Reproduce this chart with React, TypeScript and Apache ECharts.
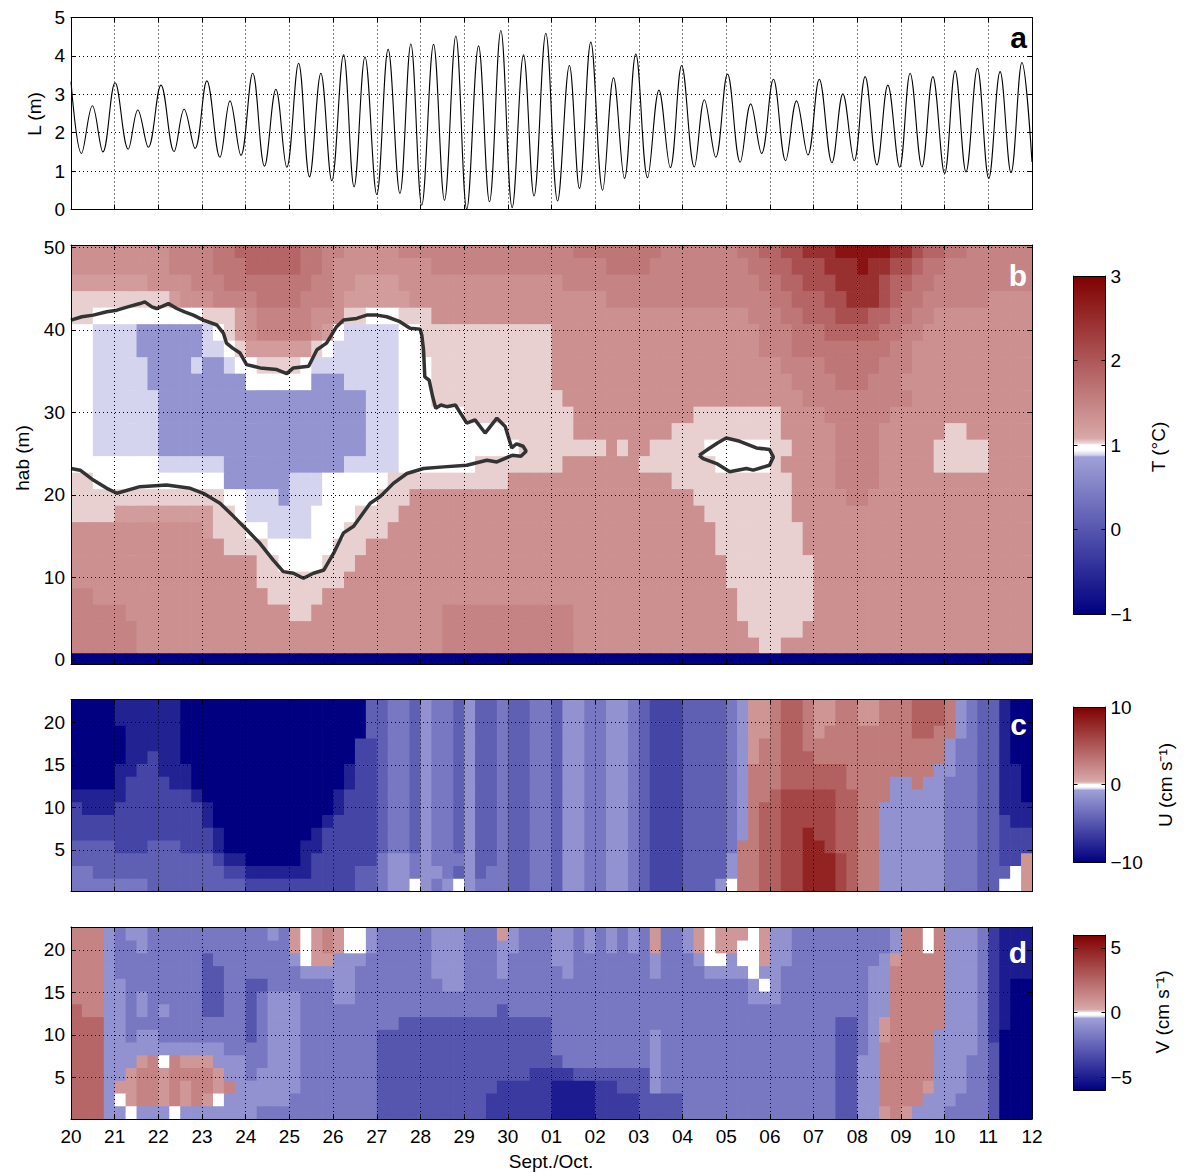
import React, { useEffect, useRef } from 'react';
import * as echarts from 'echarts';

// ---------------- data ----------------
const DAY_MIN = 20;
const DAY_MAX = 42;
const CELL_DAYS = 0.25;

// panel a: tidal level extremes [day, L (m)]
const TIDE_EXTREMA: [number, number][] = [
  [20.0, 3.33], [20.24, 1.46], [20.49, 2.70], [20.73, 1.50], [21.01, 3.30], [21.31, 1.57], [21.53, 2.59], [21.77, 1.62],
  [22.06, 3.24], [22.36, 1.51], [22.59, 2.61], [22.84, 1.59], [23.11, 3.35], [23.41, 1.36], [23.64, 2.83], [23.89, 1.41],
  [24.16, 3.55], [24.43, 1.13], [24.69, 3.13], [24.94, 1.10], [25.21, 3.81], [25.46, 0.85], [25.72, 3.55], [25.97, 0.75],
  [26.24, 4.03], [26.48, 0.59], [26.73, 3.97], [27.0, 0.39], [27.26, 4.17], [27.53, 0.42], [27.78, 4.31], [28.03, 0.11],
  [28.3, 4.30], [28.55, 0.24], [28.81, 4.52], [29.06, 0.01], [29.33, 4.26], [29.58, 0.20], [29.84, 4.66], [30.1, 0.05],
  [30.36, 4.03], [30.6, 0.35], [30.87, 4.59], [31.14, 0.22], [31.41, 3.75], [31.64, 0.55], [31.9, 4.36], [32.17, 0.50],
  [32.42, 3.43], [32.67, 0.81], [32.93, 4.05], [33.2, 0.83], [33.46, 3.11], [33.72, 1.09], [33.98, 3.75], [34.27, 1.11],
  [34.5, 2.86], [34.76, 1.36], [35.03, 3.53], [35.32, 1.23], [35.56, 2.75], [35.81, 1.46], [36.08, 3.39], [36.36, 1.27],
  [36.61, 2.83], [36.87, 1.42], [37.13, 3.39], [37.42, 1.22], [37.67, 3.01], [37.93, 1.27], [38.18, 3.46], [38.45, 1.16],
  [38.7, 3.24], [38.97, 1.10], [39.21, 3.55], [39.48, 1.11], [39.73, 3.46], [40.0, 0.94], [40.24, 3.61], [40.49, 0.98],
  [40.75, 3.68], [41.01, 0.81], [41.27, 3.59], [41.52, 0.96], [41.77, 3.83], [42.0, 1.24],
];

// panel b: temperature, one character per quarter day (groups = days 20..41)
const T_LEVELS: Record<string, number> = {
  N: -1, B: 0.72, L: 0.885, W: 0.97, P: 1.03,
  '1': 1.22, '2': 1.35, '3': 1.5, '4': 1.65, '5': 1.85, '6': 2.1, '7': 2.45, '8': 2.8,
};
const T_HAB = [49.7, 47.7, 45.7, 43.7, 41.7, 39.7, 37.7, 35.7, 33.7, 31.7, 29.7, 27.7, 25.7, 23.7, 21.7, 19.7, 17.7, 15.7, 13.7, 11.7, 9.7, 7.7, 5.7, 3.7, 1.7, -0.1];
const T_ROWS = [
  '2222 2222 2333 3445 5555 5443 3222 2233 3333 3333 3333 3344 4444 4433 3333 3445 5667 7788 8887 7655 4433 3333',
  '2222 2222 2333 3444 5555 5443 2222 2222 2333 3333 3333 3333 3444 4333 3333 3344 5566 6777 8776 6544 3333 3333',
  '1111 1112 2223 3344 4444 4433 2211 1122 2222 2222 2222 2333 3333 3333 3333 3334 4556 6677 7765 5443 3333 3333',
  'PPPP PPPP P122 2333 3444 4333 2111 1112 2222 2222 2222 2222 2333 3333 3333 3333 4455 5667 7765 4433 3333 2222',
  'PPWW WWWW WWWW PPP1 2333 3322 2PPW WWPP P222 2222 2222 2222 2222 2222 2222 2233 3445 5566 6554 4332 2222 2222',
  'WWLL LLBB BBBB LWP1 2333 3321 WLLL LLWW PPPP PPPP PPPP 2222 2222 2222 2222 2223 3344 4555 5544 3322 2222 2222',
  'WWLL LLBB BBBB LLWP 1111 11PW LLLL LLWW PPPP PPPP PPPP 2222 2222 2222 2222 2223 3344 4444 4443 3222 2222 2222',
  'WWLL LLLB BBBL BBLW WPPP PWLL LLLL LLWW WPPP PPPP PPPP 2222 2222 2222 2222 2222 2333 3444 4433 3222 2222 2222',
  'WWLL LLLB BBBB BBBB WWWW WWBB BLLL LLWW WPPP PPPP PPPP 2222 2222 2222 2222 2222 2233 3344 4333 2222 2222 2222',
  'WWLL LLLL BBBB BBBB BBBB BBBB BBBL LLWW WPPP PPPP PPPP P222 2222 2222 2222 2222 2223 3333 3333 3222 2222 2222',
  'WWLL LLLL BBBB BBBB BBBB BBBB BBBL LLWW WWWW PPPP PPPP PP22 2222 2222 2PPP PPPP P222 2333 3332 2222 2222 2222',
  'WWLL LLLL BBBB BBBB BBBB BBBB BBBL LLWW WWWW WWWW PPPP PP22 2222 222P PPPP PPPP P222 2233 3322 2222 PP22 2222',
  'WWLL LLLL BBBB BBBB BBBB BBBB BBBL LLWW WWWW WWWW WPPP PPPP P2P2 2PPP PPWW WWWW PP22 2233 3322 222P PPPP 2222',
  'WWWW WWWW LLLL LLBB BBBB BBBB BLLL LLWW WWWW WPPP PPPP P222 2222 PPPP PPPW WWWW P222 2233 3322 222P PPPP 2222',
  'PPWW WWWW WWWW WWBB BBBB LLLW WWWW WPPP PPPP PPPP 2222 2222 2222 222P PPPP PPPP PP22 2233 3322 2222 2222 2222',
  'PPPP PPPP PPPP PPWW LLLB LLLW WWWW PPP2 2222 2222 2222 2222 2222 2222 2PPP PPPP PP22 2223 3222 2222 2222 2222',
  'PPPP 1111 1111 1PPW LLLL LLWW WWPP PP22 2222 2222 2222 2222 2222 2222 22PP PPPP PP22 2222 2222 2222 2222 2222',
  '2222 2222 2222 1PPP WWLL LLWW WPPP P222 2222 2222 2222 2222 2222 2222 222P PPPP PPP2 2222 2222 2222 2222 2222',
  '2222 2222 2222 22PP PPWW WWWW PPP2 2222 2222 2222 2222 2222 2222 2222 222P PPPP PPP2 2222 2222 2222 2222 2222',
  '2222 2222 2222 2222 2PPW WWWP PP22 2222 2222 2222 2222 2222 2222 2222 2222 PPPP PPPP 2222 2222 2222 2222 2222',
  '2222 2222 2222 2222 2PPP PPPP P222 2222 2222 2222 2222 2222 2222 2222 2222 PPPP PPPP 2222 2222 2222 2222 2222',
  '3322 2222 2222 2222 22PP PPP2 2222 2222 2222 2222 2222 2222 2222 2222 2222 2PPP PPPP 2222 2222 2222 2222 2222',
  '3333 3222 2222 2222 2222 PP22 2222 2222 2233 3333 3333 3322 2222 2222 2222 2PPP PPPP 2222 2222 2222 2222 2222',
  '3333 3322 2222 2222 2222 2222 2222 2222 2233 3333 3333 3322 2222 2222 2222 22PP PPP2 2222 2222 2222 2222 2222',
  '3333 3322 2222 2222 2222 2222 2222 2222 2233 3333 3333 3322 2222 2222 2222 222P P222 2222 2222 2222 2222 2222',
  'NNNN NNNN NNNN NNNN NNNN NNNN NNNN NNNN NNNN NNNN NNNN NNNN NNNN NNNN NNNN NNNN NNNN NNNN NNNN NNNN NNNN NNNN',
];

// panel b: 1 degC isotherm [day, hab]
const CONTOUR_MAIN: [number, number][] = [
  [20.0, 41.2], [20.25, 41.6], [20.51, 41.8], [20.82, 42.2], [21.05, 42.4], [21.3, 42.8], [21.58, 43.2], [21.69, 43.4],
  [21.85, 42.8], [21.96, 42.6], [22.1, 42.9], [22.23, 43.2], [22.42, 42.6], [22.6, 42.2], [22.8, 41.8], [23.03, 41.2],
  [23.34, 40.6], [23.49, 39.6], [23.56, 38.4], [23.7, 37.8], [23.87, 37.2], [24.02, 35.8], [24.33, 35.4], [24.71, 35.2],
  [24.94, 34.7], [25.09, 35.4], [25.44, 35.6], [25.63, 37.6], [25.85, 38.4], [26.08, 40.4], [26.24, 41.2], [26.54, 41.4],
  [26.77, 41.8], [27.0, 41.8], [27.23, 41.6], [27.53, 41.0], [27.76, 40.2], [27.99, 40.1], [28.03, 39.4], [28.07, 37.6],
  [28.1, 34.3], [28.2, 33.9], [28.28, 31.9], [28.35, 30.5], [28.47, 30.9], [28.6, 30.7], [28.8, 30.9], [29.06, 28.7],
  [29.25, 29.1], [29.48, 27.5], [29.75, 29.3], [29.94, 28.3], [30.09, 25.7], [30.2, 26.2], [30.35, 25.9], [30.42, 25.3],
  [30.3, 24.7], [30.1, 24.8], [29.75, 24.0], [29.52, 24.2], [29.06, 23.6], [28.53, 23.4], [28.07, 23.2], [27.69, 22.6],
  [27.38, 21.4], [27.08, 19.8], [26.85, 19.0], [26.47, 16.2], [26.24, 15.4], [26.01, 12.9], [25.79, 10.9], [25.55, 10.5],
  [25.32, 9.9], [25.09, 10.5], [24.86, 10.7], [24.63, 12.1], [24.33, 14.1], [24.02, 15.8], [23.72, 17.4], [23.41, 19.0],
  [23.03, 20.2], [22.73, 20.8], [22.19, 21.2], [21.58, 21.0], [21.05, 20.2], [20.82, 20.8], [20.51, 21.8], [20.21, 23.0],
  [20.0, 23.2],
];
const CONTOUR_SMALL: [number, number][] = [
  [34.38, 24.8], [34.6, 25.6], [34.8, 26.3], [35.0, 26.9], [35.31, 26.5], [35.69, 25.7], [35.99, 25.5], [36.08, 24.6],
  [35.99, 23.6], [35.62, 23.0], [35.46, 23.2], [35.08, 22.8], [34.78, 23.8], [34.47, 24.4], [34.38, 24.8],
];

// panels c and d: velocity, one character per quarter day
const UV_HAB = [21.85, 20.35, 18.85, 17.35, 15.85, 14.35, 12.85, 11.35, 9.85, 8.35, 6.85, 5.35, 3.85, 2.35, 0.85];
const U_LEVELS: Record<string, number> = {
  '0': -10, '1': -8, '2': -6, '3': -4.5, '4': -3, '5': -1.5, w: 0, a: 1.5, b: 3, c: 4.5, d: 6, e: 8,
};
const U_ROWS = [
  '0000 1111 1100 0000 0000 0000 0003 3443 5443 5334 3344 3554 4554 3222 3333 45aa bccb aabb aabb bccc b543 3100',
  '0000 1111 1100 0000 0000 0000 0003 3443 5443 5334 3344 3554 4554 3222 3333 45aa bccb aabb aabb bccc b543 3100',
  '0000 0111 1100 0000 0000 0000 0003 3443 5443 5334 3344 3554 4554 3222 3333 45aa bccb abbb bbbb bccb b543 3100',
  '0000 0111 1100 0000 0000 0000 0022 3443 5443 5334 3344 3554 4554 3222 3333 45ab bccb bbbb bbbb bbbb 5443 3100',
  '0000 0112 1100 0000 0000 0000 0022 3443 5443 5334 3344 3554 4554 3222 3333 45ab bccc bbbb bbbb bbbb 5443 3100',
  '0000 1122 1110 0000 0000 0000 0122 3443 5443 5334 3344 3554 4554 3222 3333 45bb bccc cccb bbbb bbb5 5443 3110',
  '0000 1222 2110 0000 0000 0000 0122 3443 5443 5334 3344 3554 4554 3222 3333 45bb bccc cccb bbb5 5b55 4443 3110',
  '1111 1222 2221 0000 0000 0000 1222 3443 5443 5334 3344 3554 4554 3222 3333 45bb cddd ddcc bbb5 5555 4443 3110',
  '2111 2222 2222 1000 0000 0000 1222 3443 5443 5334 3344 3554 4554 3222 3333 45bc cddd ddcc bb55 5555 4443 3111',
  '2222 2222 2222 1000 0000 0001 2222 3443 5443 5334 3344 3554 4554 3222 3333 45bc cddd ddcc bb55 5555 4443 3211',
  '2222 2222 2222 2100 0000 0012 2222 3443 5443 5334 3344 3554 4554 3222 3333 45bc cdde ddcc bb55 5555 4443 3222',
  '3333 2223 3322 2100 0000 0112 2222 3443 5443 5334 3344 3554 4554 3222 3333 4bbc cdde edcc bb55 5555 4443 3222',
  '3333 3333 3333 3211 0000 0122 2222 4554 5444 5334 3344 3554 4554 3222 3333 5bbc cdde eedc bb55 5555 4443 322a',
  '4433 3333 3333 3322 1111 1122 2233 4554 5543 5344 3344 3554 4554 3222 3333 5bbc cdde eedc bb55 5555 4443 33wa',
  '4444 4443 3333 3333 2222 2222 2233 455w 545w 5444 3344 3554 4554 3222 3335 wbbc cdde eedc bb55 5555 4443 3wwa',
];
const V_LEVELS: Record<string, number> = {
  '0': -6, '1': -5, '2': -4, '3': -3, '4': -1.8, '5': -0.9, w: 0, a: 0.8, b: 1.5, c: 2.5, d: 4, e: 5,
};
const V_ROWS = [
  'bbb5 4554 4444 4444 4454 awab aww5 4444 4555 444a 5444 5545 4545 4a44 5awa aawa 5544 4444 4445 bbwb 5554 2111',
  'bbb5 4454 4444 4444 4444 awab aww5 4444 4555 4445 5444 5545 4545 4a44 5awa awwa 5544 4444 4445 bbwb 5554 2111',
  'bbb5 4444 4444 3444 4444 5waa 5554 4444 4555 4445 4444 5544 4444 4544 45ww 5wwa 5544 4444 445a bbbb 5554 2111',
  'bbb5 4444 4444 3344 4444 4555 5544 4444 4555 4445 4444 4544 4444 4544 4455 55w5 5444 4444 455b bbbb 5554 2111',
  'bbb5 5444 4444 3344 3344 4444 5544 4444 4455 4444 4444 4444 4444 4444 4444 445w 5444 4444 455b bbbb 5554 2100',
  'bbb5 5454 4444 3344 3455 5444 5544 4444 4444 4444 4444 4444 4444 4444 4444 4455 5444 4444 455b bbbb 5554 2100',
  'cbb5 5454 5444 3344 3455 5444 4444 4444 4444 4443 4444 4444 4444 4444 4444 4444 4444 4444 455b bbbb 5554 2100',
  'ccc5 5444 4444 4444 3455 5444 4444 4433 3333 3333 3333 4444 4444 4444 4444 4444 4444 4433 45ab bbbb 5554 2100',
  'ccc5 5455 4444 4444 3455 5444 4444 3333 3333 3333 3333 4444 4444 4544 4444 4444 4444 4433 45ab bbb5 5554 2000',
  'ccc5 5555 5555 5544 4455 5444 4444 3333 3333 3333 3333 4444 4444 4544 4444 4444 4444 4433 45bb bbb5 5554 3000',
  'ccc5 55ab wbaa a555 4455 5444 4444 3333 3333 3333 3333 3444 4444 4544 4444 4444 4444 4433 55bb bbb5 5544 3000',
  'ccc5 5abb abbb ba55 4555 5444 4444 3333 3333 3333 3322 2233 3333 3544 4444 4444 4444 4433 55bb bbb5 5544 3000',
  'ccc5 aabb abab bab5 5555 5444 4444 3333 3333 3332 2222 1111 2233 3544 4444 4444 4444 4433 55bb bba5 5544 3000',
  'ccc5 wabb abab aw55 5555 4444 4444 3333 3333 3322 2222 1111 2222 3333 4444 4444 4444 4433 55bb bb55 5444 3000',
  'ccc5 5w55 5w55 5555 5444 4444 4444 3333 3333 3322 2222 1111 2222 3333 4444 4444 4444 4433 55ab a555 4444 3000',
];

const T_TICKS = [0, 10, 20, 30, 40, 50];
const UV_TICKS = [5, 10, 15, 20];
const V_BAR_TICKS = [-5, 0, 5];

// ---------------- styling / helpers ----------------
const FONT = '"Liberation Sans", Arial, Helvetica, sans-serif';
const BLACK = { color: '#000', width: 1 };
const DOTTED = { color: '#000', width: 1, type: [1, 3] as number[] };

const CMAP: [number, number, number, number][] = [
  [0, 0, 0, 128], [0.465, 160, 160, 216], [0.47, 208, 208, 236], [0.485, 255, 255, 255],
  [0.5, 255, 255, 255], [0.505, 236, 216, 216], [0.52, 216, 168, 168], [1, 128, 0, 0],
];
function cmapColor(t: number): string {
  for (let i = 1; i < CMAP.length; i++) {
    if (t <= CMAP[i][0]) {
      const a = CMAP[i - 1];
      const b = CMAP[i];
      const f = (t - a[0]) / (b[0] - a[0] || 1);
      const c = [1, 2, 3].map((k) => Math.round(a[k] + (b[k] - a[k]) * f));
      return `rgb(${c[0]},${c[1]},${c[2]})`;
    }
  }
  const l = CMAP[CMAP.length - 1];
  return `rgb(${l[1]},${l[2]},${l[3]})`;
}
const PALETTE = Array.from({ length: 401 }, (_, i) => cmapColor(i / 400));
const GRADIENT = CMAP.map((s) => ({ offset: s[0], color: `rgb(${s[1]},${s[2]},${s[3]})` }));

function buildCells(rows: string[], habs: number[], levels: Record<string, number>, yMin: number, yMax: number) {
  const out: number[][] = [];
  rows.forEach((row, r) => {
    const chars = row.replace(/\s+/g, '');
    const h = habs[r];
    const top = r === 0 ? yMax : (habs[r - 1] + h) / 2;
    const bottom = r === habs.length - 1 ? yMin : (habs[r + 1] + h) / 2;
    for (let j = 0; j < chars.length; j++) {
      const v = levels[chars[j]];
      if (v === undefined) continue;
      const x0 = DAY_MIN + j * CELL_DAYS;
      out.push([x0, x0 + CELL_DAYS, bottom, top, v]);
    }
  });
  return out;
}

const dayLabel = (v: number) => {
  const d = Math.round(v);
  if (d <= 30) return String(d);
  const o = d - 30;
  return o < 10 ? '0' + o : String(o);
};
const signed = (v: number) => (v < 0 ? '\u2212' + Math.abs(v) : String(v));

const GRIDS = [
  { left: 71, top: 17.5, width: 961, height: 192 },
  { left: 71, top: 245, width: 961, height: 419 },
  { left: 71, top: 699.5, width: 961, height: 192 },
  { left: 71, top: 927, width: 961, height: 192 },
  { left: 1073.5, top: 276, width: 32, height: 338 },
  { left: 1073.5, top: 707, width: 32, height: 155 },
  { left: 1073.5, top: 935, width: 32, height: 155 },
];

const labelStyle = { fontSize: 19, fontFamily: FONT, color: '#000' };

function panelX(g: number, labels: boolean) {
  const base = { type: 'value', gridIndex: g, min: DAY_MIN, max: DAY_MAX, interval: 1, z: 10 };
  return [
    {
      ...base, position: 'bottom',
      axisLine: { show: true, onZero: false, lineStyle: BLACK },
      axisTick: { show: true, inside: true, length: 5, lineStyle: BLACK },
      axisLabel: { show: labels, margin: 8, formatter: dayLabel, ...labelStyle },
      splitLine: { show: true, lineStyle: DOTTED },
    },
    {
      ...base, position: 'top',
      axisLine: { show: true, onZero: false, lineStyle: BLACK },
      axisTick: { show: true, inside: true, length: 5, lineStyle: BLACK },
      axisLabel: { show: false },
      splitLine: { show: false },
    },
  ];
}

function panelY(g: number, min: number, max: number, interval?: number, custom?: number[], grid = true, tickLen = 5, fmt = signed, margin = 6) {
  const base: any = { type: 'value', gridIndex: g, min, max, z: 10 };
  if (interval !== undefined) base.interval = interval;
  const tick: any = { show: true, inside: true, length: tickLen, lineStyle: BLACK };
  const lab: any = { show: true, margin, formatter: fmt, ...labelStyle };
  if (custom) {
    tick.customValues = custom;
    lab.customValues = custom;
  }
  return [
    {
      ...base, position: g >= 4 ? 'right' : 'left',
      axisLine: { show: true, onZero: false, lineStyle: BLACK },
      axisTick: tick,
      axisLabel: lab,
      splitLine: { show: grid, lineStyle: DOTTED },
    },
    {
      ...base, position: g >= 4 ? 'left' : 'right',
      axisLine: { show: true, onZero: false, lineStyle: BLACK },
      axisTick: tick,
      axisLabel: { show: false },
      splitLine: { show: false },
    },
  ];
}

function barX(g: number) {
  const base = { type: 'value', gridIndex: g, min: 0, max: 1, z: 10, axisTick: { show: false }, axisLabel: { show: false }, splitLine: { show: false } };
  return [
    { ...base, position: 'bottom', axisLine: { show: true, onZero: false, lineStyle: BLACK } },
    { ...base, position: 'top', axisLine: { show: true, onZero: false, lineStyle: BLACK } },
  ];
}

const renderCell = (_p: any, api: any) => {
  const p0 = api.coord([api.value(0), api.value(3)]);
  const p1 = api.coord([api.value(1), api.value(2)]);
  return {
    type: 'rect',
    shape: { x: p0[0], y: p0[1], width: p1[0] - p0[0] + 0.7, height: p1[1] - p0[1] + 0.7 },
    style: { fill: api.visual('color') },
  };
};
const renderBar = (_p: any, api: any) => {
  const p0 = api.coord([api.value(0), api.value(3)]);
  const p1 = api.coord([api.value(1), api.value(2)]);
  return {
    type: 'rect',
    shape: { x: p0[0], y: p0[1], width: p1[0] - p0[0], height: p1[1] - p0[1] },
    style: { fill: new echarts.graphic.LinearGradient(0, 1, 0, 0, GRADIENT) },
  };
};

function text(x: number, y: number, t: string, opts: any = {}) {
  return {
    type: 'text', x, y, z: 100, rotation: opts.rotate ? Math.PI / 2 : 0,
    style: {
      text: t, fontSize: opts.size || 19, fontFamily: FONT, fontWeight: opts.bold ? 'bold' : 'normal',
      fill: opts.color || '#000', align: opts.align || 'center', verticalAlign: 'middle',
    },
  };
}

export default function App() {
  const ref = useRef<HTMLDivElement>(null);
  useEffect(() => {
    if (!ref.current) return;
    const chart = echarts.init(ref.current, undefined, { renderer: 'svg' });
    const tCells = buildCells(T_ROWS, T_HAB, T_LEVELS, -0.5, 50.3);
    const uCells = buildCells(U_ROWS, UV_HAB, U_LEVELS, 0.1, 22.7);
    const vCells = buildCells(V_ROWS, UV_HAB, V_LEVELS, 0.1, 22.7);

    const cellSeries = (axis: number, data: number[][]) => ({
      type: 'custom', xAxisIndex: axis, yAxisIndex: axis, renderItem: renderCell, data,
      encode: { x: [0, 1], y: [2, 3] }, clip: true, silent: true, progressive: 0, z: 1,
    });
    const barSeries = (axis: number, min: number, max: number) => ({
      type: 'custom', xAxisIndex: axis, yAxisIndex: axis, renderItem: renderBar,
      data: [[0, 1, min, max]], encode: { x: [0, 1], y: [2, 3] }, silent: true, z: 1,
    });

    const option: any = {
      animation: false,
      backgroundColor: '#fff',
      grid: GRIDS.map((g) => ({ ...g, outerBoundsMode: 'none', containLabel: false })),
      xAxis: [
        ...panelX(0, false), ...panelX(1, false), ...panelX(2, false), ...panelX(3, true),
        ...barX(4), ...barX(5), ...barX(6),
      ],
      yAxis: [
        ...panelY(0, 0, 5, 1),
        ...panelY(1, -0.5, 50.3, undefined, T_TICKS),
        ...panelY(2, 0.1, 22.7, undefined, UV_TICKS),
        ...panelY(3, 0.1, 22.7, undefined, UV_TICKS),
        ...panelY(4, -1, 3, 1, undefined, false, 4, signed, 5),
        ...panelY(5, -10, 10, 10, undefined, false, 4, signed, 5),
        ...panelY(6, -6, 6, undefined, V_BAR_TICKS, false, 4, signed, 5),
      ],
      visualMap: [
        { type: 'continuous', show: false, seriesIndex: 1, dimension: 4, min: -1, max: 3, inRange: { color: PALETTE } },
        { type: 'continuous', show: false, seriesIndex: 4, dimension: 4, min: -10, max: 10, inRange: { color: PALETTE } },
        { type: 'continuous', show: false, seriesIndex: 5, dimension: 4, min: -6, max: 6, inRange: { color: PALETTE } },
      ],
      series: [
        {
          type: 'line', xAxisIndex: 0, yAxisIndex: 0, data: TIDE_EXTREMA, smooth: 0.38, showSymbol: false,
          symbol: 'none', lineStyle: { color: '#000', width: 1.1 }, silent: true, clip: true, z: 3,
        },
        cellSeries(2, tCells),
        {
          type: 'line', xAxisIndex: 2, yAxisIndex: 2, data: CONTOUR_MAIN, showSymbol: false, symbol: 'none',
          lineStyle: { color: '#333', width: 3.5 }, silent: true, clip: true, z: 3,
        },
        {
          type: 'line', xAxisIndex: 2, yAxisIndex: 2, data: CONTOUR_SMALL, showSymbol: false, symbol: 'none',
          lineStyle: { color: '#333', width: 3.5 }, silent: true, clip: true, z: 3,
        },
        cellSeries(4, uCells),
        cellSeries(6, vCells),
        barSeries(8, -1, 3),
        barSeries(10, -10, 10),
        barSeries(12, -6, 6),
      ],
      graphic: [
        text(34, 114, 'L (m)', { rotate: true }),
        text(22, 458, 'hab (m)', { rotate: true }),
        text(551, 1161, 'Sept./Oct.'),
        text(1158, 447, 'T (\u00B0C)', { rotate: true }),
        text(1165, 785, 'U (cm s\u207B\u00B9)', { rotate: true }),
        text(1162, 1012, 'V (cm s\u207B\u00B9)', { rotate: true }),
        text(1027, 37.5, 'a', { size: 30, bold: true, align: 'right' }),
        text(1027, 275, 'b', { size: 30, bold: true, align: 'right', color: '#fff' }),
        text(1027, 724, 'c', { size: 30, bold: true, align: 'right', color: '#fff' }),
        text(1027, 952, 'd', { size: 30, bold: true, align: 'right', color: '#fff' }),
      ],
    };
    chart.setOption(option);
    return () => chart.dispose();
  }, []);
  return (
    <div
      ref={ref}
      style={{ position: 'fixed', left: 0, top: 0, width: 1186, height: 1173, background: '#fff' }}
    />
  );
}
